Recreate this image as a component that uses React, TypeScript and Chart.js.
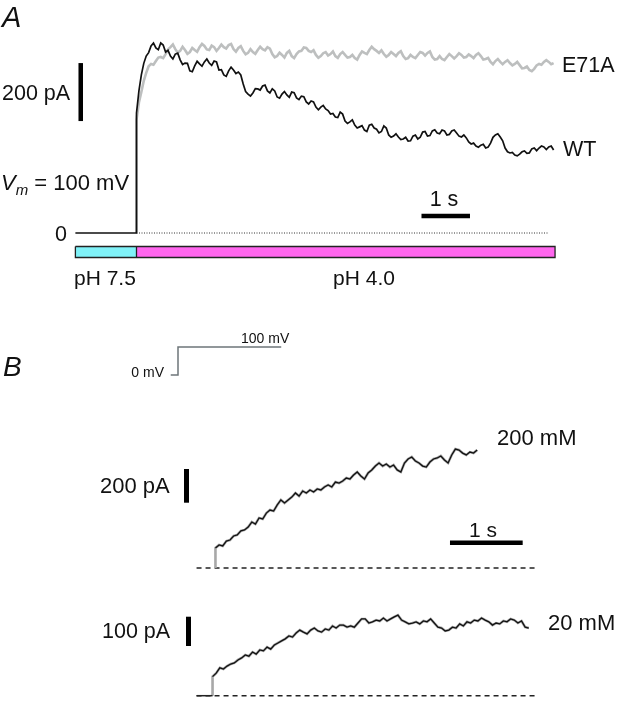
import React, { useEffect, useRef } from "react";
import { Chart, registerables } from "chart.js";

Chart.register(...registerables);

const W = 617;
const H = 706;
const FONT = '"Liberation Sans", Arial, Helvetica, sans-serif';

// ---------------- Panel A: currents at Vm = 100 mV (pA) ----------------
const A_DT = 0.05; // s, sample interval after the pH jump (t = 0)
const wtCurrentA = [
  414, 490, 545, 585, 610, 622, 645, 655, 638, 632, 655, 648, 624, 630, 610, 600, 617, 620, 597, 581,
  586, 585, 559, 556, 576, 592, 583, 575, 590, 600, 586, 578, 593, 590, 562, 563, 545, 540, 559, 572,
  562, 550, 555, 545, 514, 488, 479, 472, 483, 498, 497, 493, 507, 510, 490, 483, 497, 490, 469, 465,
  479, 488, 476, 468, 486, 484, 466, 460, 472, 470, 452, 445, 455, 452, 434, 425, 434, 440, 428, 422,
  410, 412, 400, 398, 417, 410, 386, 378, 383, 390, 372, 362, 366, 370, 355, 350, 372, 375, 362, 358,
  345, 350, 369, 362, 338, 330, 334, 342, 331, 322, 324, 330, 317, 318, 334, 338, 324, 330, 348, 350,
  334, 336, 352, 356, 345, 342, 355, 352, 338, 340, 352, 355, 345, 334, 331, 338, 328, 314, 307, 310,
  300, 296, 303, 306, 293, 296, 310, 330, 338, 342, 331, 318, 293, 280, 276, 278, 269, 266, 272, 280,
  283, 275, 276, 290, 293, 284, 293, 300, 297, 288, 297, 300, 286,
];
const e71aCurrentA = [
  390, 450, 486, 525, 552, 575, 583, 580, 593, 605, 607, 603, 617, 633, 641, 650, 634, 622, 628, 642,
  631, 618, 624, 638, 631, 625, 641, 652, 645, 633, 631, 646, 641, 628, 638, 650, 641, 636, 648, 652,
  634, 625, 638, 644, 628, 616, 621, 634, 624, 618, 631, 642, 634, 630, 641, 636, 617, 606, 610, 622,
  614, 605, 621, 628, 610, 603, 617, 626, 628, 640, 638, 628, 624, 630, 614, 604, 610, 620, 624, 612,
  617, 626, 610, 604, 617, 624, 614, 605, 607, 614, 603, 598, 614, 626, 621, 617, 631, 642, 634, 628,
  621, 630, 617, 608, 614, 624, 617, 610, 621, 627, 610, 600, 603, 614, 607, 603, 614, 624, 621, 612,
  621, 626, 607, 598, 600, 610, 600, 596, 607, 617, 610, 602, 610, 620, 614, 605, 607, 616, 610, 603,
  614, 620, 610, 598, 600, 604, 590, 582, 593, 600, 590, 582, 590, 596, 586, 578, 583, 590, 579, 568,
  569, 574, 562, 558, 566, 578, 583, 580, 590, 596, 590, 582, 586,
];
const baselineTimeA = [-1.26, 0];
const zeroLineTimeA = [0, 8.5];
const phLabels = ["pH 7.5", "pH 4.0"];
const phStart = [-1.26, 0];
const phEnd = [0, 8.63];
const phColors = ["#80f2f8", "#ff66ee"];

// ---------------- Panel B: currents at 100 mV (pA) ----------------
const B_DT = 0.05; // s
const cur200mM = [
  119, 137, 131, 160, 166, 190, 196, 220, 226, 243,
  273, 261, 297, 291, 326, 344, 338, 374, 404, 386,
  404, 421, 445, 427, 457, 445, 463, 451, 469, 463,
  481, 493, 481, 510, 504, 516, 534, 528, 552, 570,
  546, 528, 564, 582, 605, 623, 605, 617, 599, 611,
  582, 570, 623, 647, 659, 635, 623, 605, 599, 629,
  647, 653, 665, 641, 623, 671, 706, 700, 682, 671,
  688, 682, 700,
];
const cur20mM = [
  65, 77, 95, 91, 101, 108, 112, 122, 129, 139,
  135, 149, 142, 156, 153, 166, 159, 173, 180, 187,
  194, 204, 200, 214, 224, 217, 211, 224, 231, 221,
  217, 228, 224, 238, 231, 241, 241, 234, 238, 234,
  248, 262, 262, 248, 252, 258, 255, 265, 255, 262,
  269, 275, 258, 252, 245, 248, 252, 245, 255, 252,
  262, 248, 234, 231, 221, 224, 234, 231, 245, 238,
  252, 248, 258, 255, 265, 258, 252, 241, 248, 245,
  255, 252, 262, 258, 248, 255, 234, 231,
];
const start200mM = 0.02; // s
const start20mM = -0.02; // s
const preBaseline20mM = -0.24;
const dashedBaselineB = [-0.24, 4.42];
const stepTime = [-0.1, 0, 0, 1.42];
const stepVoltage = [0, 0, 100, 100];

// ---------------- layout (pixel mapping of each axis) ----------------
const MAP = {
  xA: { p0: 136.5, ppu: 48.5 / 1 },
  yA: { p0: 233, ppu: 0.29 },
  xB: { p0: 214, ppu: 72.7 },
  yB1: { p0: 568, ppu: 0.1685 },
  yB2: { p0: 695.7, ppu: 0.293 },
  xV: { p0: 178, ppu: 72.7 },
  yV: { p0: 375, ppu: 0.28 },
};
const xRange = (m: { p0: number; ppu: number }) => ({ min: -m.p0 / m.ppu, max: (W - m.p0) / m.ppu });
const yRange = (m: { p0: number; ppu: number }) => ({ min: -(H - m.p0) / m.ppu, max: m.p0 / m.ppu });

const PH_BAR = { top: -46.5, bottom: -84.5 };
const BARS = {
  aV: { t: -1.15, from: 386, to: 586 },
  aH: { y: 58.6, from: 5.876, to: 6.876 },
  b1V: { t: -0.378, from: 387.5, to: 587.5 },
  b1H: { y: 150, from: 3.246, to: 4.246 },
  b2V: { t: -0.351, from: 169.6, to: 269.6 },
};

type Lbl = { text: string; x: number; y: number; size: number; align?: CanvasTextAlign; italic?: boolean };
const LABELS: Lbl[] = [
  { text: "A", x: 2, y: 27, size: 29, italic: true },
  { text: "200 pA", x: 2, y: 100, size: 21.5 },
  { text: "0", x: 67, y: 241, size: 21.5, align: "right" },
  { text: "E71A", x: 562, y: 72, size: 21.5 },
  { text: "WT", x: 563, y: 156, size: 21.5 },
  { text: "1 s", x: 444, y: 206, size: 21.5, align: "center" },
  { text: phLabels[0], x: 74, y: 285, size: 21 },
  { text: phLabels[1], x: 364, y: 285, size: 21, align: "center" },
  { text: "B", x: 3, y: 376, size: 28, italic: true },
  { text: "0 mV", x: 164, y: 377, size: 14, align: "right" },
  { text: "100 mV", x: 241, y: 343, size: 14 },
  { text: "200 mM", x: 497, y: 445, size: 22 },
  { text: "200 pA", x: 100, y: 493, size: 22 },
  { text: "1 s", x: 483, y: 537, size: 21, align: "center" },
  { text: "100 pA", x: 102, y: 638, size: 21.5 },
  { text: "20 mM", x: 548, y: 630, size: 22 },
];

const series = (t0: number, dt: number, v: number[]) => v.map((y, i) => ({ x: t0 + i * dt, y }));

const textPlugin = {
  id: "figText",
  afterDraw(chart: any) {
    const ctx: CanvasRenderingContext2D = chart.ctx;
    ctx.save();
    ctx.fillStyle = "#111";
    ctx.textBaseline = "alphabetic";
    for (const l of LABELS) {
      ctx.font = `${l.italic ? "italic " : ""}${l.size}px ${FONT}`;
      ctx.textAlign = l.align || "left";
      ctx.fillText(l.text, l.x, l.y);
    }
    // V_m = 100 mV
    ctx.textAlign = "left";
    let x = 1;
    ctx.font = `italic 22px ${FONT}`;
    ctx.fillText("V", x, 189.5);
    x += ctx.measureText("V").width;
    ctx.font = `italic 15px ${FONT}`;
    ctx.fillText("m", x, 195);
    x += ctx.measureText("m").width;
    ctx.font = `22px ${FONT}`;
    ctx.fillText(" = 100 mV", x, 189.5);
    ctx.restore();
  },
};

export default function App() {
  const ref = useRef<HTMLCanvasElement | null>(null);
  useEffect(() => {
    if (!ref.current) return;
    const line = (data: any[], xAxisID: string, yAxisID: string, extra: any = {}) => ({
      data,
      xAxisID,
      yAxisID,
      borderColor: "#111",
      borderWidth: 1.5,
      pointRadius: 0,
      fill: false,
      tension: 0,
      ...extra,
    });
    const trace200 = series(start200mM, B_DT, cur200mM);
    const trace20 = series(start20mM, B_DT, cur20mM);
    const datasets: any[] = [
      // Panel A traces
      line(
        [{ x: baselineTimeA[0], y: 0 }, { x: baselineTimeA[1], y: 0 }, ...series(0, A_DT, wtCurrentA)],
        "xA", "yA", { borderColor: "#111", borderWidth: 1.7, order: 1 }
      ),
      line([{ x: 0, y: 0 }, ...series(0, A_DT, e71aCurrentA)], "xA", "yA", {
        borderColor: "#bdbfbf", borderWidth: 2.6, order: 2,
      }),
      line(zeroLineTimeA.map((t) => ({ x: t, y: 0 })), "xA", "yA", {
        borderColor: "#333", borderWidth: 1, borderDash: [1, 1.5], order: 3,
      }),
      // scale bars A
      line([{ x: BARS.aV.t, y: BARS.aV.from }, { x: BARS.aV.t, y: BARS.aV.to }], "xA", "yA", { borderWidth: 4.5, borderColor: "#000" }),
      line([{ x: BARS.aH.from, y: BARS.aH.y }, { x: BARS.aH.to, y: BARS.aH.y }], "xA", "yA", { borderWidth: 4.5, borderColor: "#000" }),
      // pH bars
      ...phStart.map((s, i) =>
        line([{ x: s, y: PH_BAR.top }, { x: phEnd[i], y: PH_BAR.top }], "xA", "yA", {
          borderWidth: 0, backgroundColor: phColors[i], fill: { value: PH_BAR.bottom }, order: 10,
        })
      ),
      line(
        [
          { x: phStart[0], y: PH_BAR.top },
          { x: phEnd[1], y: PH_BAR.top },
          { x: phEnd[1], y: PH_BAR.bottom },
          { x: phStart[0], y: PH_BAR.bottom },
          { x: phStart[0], y: PH_BAR.top },
        ],
        "xA", "yA", { borderColor: "#222", borderWidth: 1.3, order: 5 }
      ),
      line([{ x: phEnd[0], y: PH_BAR.top }, { x: phEnd[0], y: PH_BAR.bottom }], "xA", "yA", {
        borderColor: "#222", borderWidth: 1.3, order: 5,
      }),
      // Panel B voltage step
      line(stepTime.map((t, i) => ({ x: t, y: stepVoltage[i] })), "xV", "yV", { borderColor: "#6e7679", borderWidth: 1.5 }),
      // Panel B traces (black trace over a grey copy)
      line(trace200, "xB", "yB1", { borderColor: "#111", borderWidth: 1.3, order: 1 }),
      line([{ x: start200mM, y: 0 }, ...trace200], "xB", "yB1", { borderColor: "#a8a8a8", borderWidth: 2.6, order: 2 }),
      line([{ x: preBaseline20mM, y: 0 }, { x: start20mM, y: 0 }], "xB", "yB2", { borderColor: "#222", borderWidth: 1.5, order: 1 }),
      line(trace20, "xB", "yB2", { borderColor: "#111", borderWidth: 1.3, order: 1 }),
      line([{ x: start20mM, y: 0 }, ...trace20], "xB", "yB2", { borderColor: "#a8a8a8", borderWidth: 2.6, order: 2 }),
      line(dashedBaselineB.map((t) => ({ x: t, y: 0 })), "xB", "yB1", { borderColor: "#222", borderWidth: 1.5, borderDash: [5, 4], order: 3 }),
      line(dashedBaselineB.map((t) => ({ x: t, y: 0 })), "xB", "yB2", { borderColor: "#222", borderWidth: 1.5, borderDash: [5, 4], order: 3 }),
      // scale bars B
      line([{ x: BARS.b1V.t, y: BARS.b1V.from }, { x: BARS.b1V.t, y: BARS.b1V.to }], "xB", "yB1", { borderWidth: 5, borderColor: "#000" }),
      line([{ x: BARS.b1H.from, y: BARS.b1H.y }, { x: BARS.b1H.to, y: BARS.b1H.y }], "xB", "yB1", { borderWidth: 4.5, borderColor: "#000" }),
      line([{ x: BARS.b2V.t, y: BARS.b2V.from }, { x: BARS.b2V.t, y: BARS.b2V.to }], "xB", "yB2", { borderWidth: 5, borderColor: "#000" }),
    ];
    const sc = (m: any, isX: boolean) => ({
      type: "linear",
      display: false,
      ...(isX ? xRange(m) : yRange(m)),
      grid: { display: false },
    });
    const chart = new Chart(ref.current, {
      type: "line",
      data: { datasets },
      options: {
        responsive: false,
        maintainAspectRatio: false,
        animation: false,
        devicePixelRatio: 1,
        events: [],
        layout: { padding: 0 },
        plugins: { legend: { display: false }, tooltip: { enabled: false }, title: { display: false } },
        scales: {
          xA: sc(MAP.xA, true),
          yA: sc(MAP.yA, false),
          xB: sc(MAP.xB, true),
          yB1: sc(MAP.yB1, false),
          yB2: sc(MAP.yB2, false),
          xV: sc(MAP.xV, true),
          yV: sc(MAP.yV, false),
        } as any,
      },
      plugins: [textPlugin],
    } as any);
    return () => chart.destroy();
  }, []);
  return (
    <div style={{ position: "absolute", left: 0, top: 0, width: W, height: H, background: "#fff" }}>
      <canvas ref={ref} width={W} height={H} style={{ width: W, height: H, display: "block" }} />
    </div>
  );
}
